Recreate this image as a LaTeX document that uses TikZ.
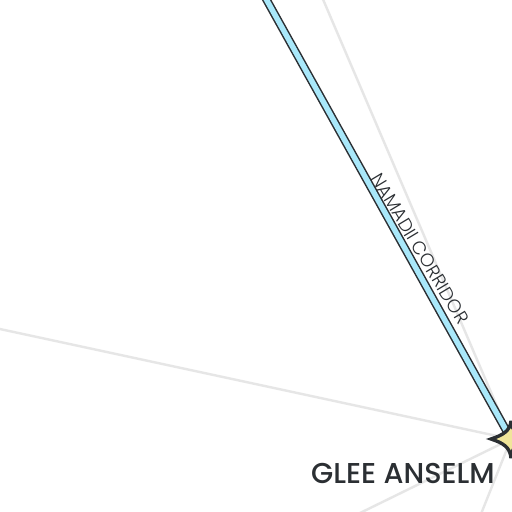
\documentclass[tikz,border=0pt]{standalone}
\usepackage{fontspec}
\setmainfont{Poppins}
\newfontfamily\lightfont{Poppins Light}
\newfontfamily\medfont{Poppins Medium}
\definecolor{ink}{HTML}{2B2F33}
\definecolor{faint}{HTML}{E6E6E6}
\definecolor{corridor}{HTML}{A9E8FA}
\definecolor{starfill}{HTML}{F0E59A}
\tikzset{
  faintline/.style={draw=faint,line width=2.4pt},
  casing/.style={draw=ink,line width=8.4pt},
  core/.style={draw=corridor,line width=5.4pt},
  titlelabel/.style={text=ink,inner sep=0pt,font=\medfont\fontsize{28.7}{30}\selectfont},
  pathlabel/.style={text=ink,inner sep=0pt,font=\lightfont\fontsize{18.4}{20}\selectfont,rotate=-59},
}
\begin{document}
\begin{tikzpicture}[x=1pt,y=-1pt]
\useasboundingbox (0,0) rectangle (512,512);
\clip (0,0) rectangle (512,512);
\fill[white] (0,0) rectangle (512,512);
\coordinate (hub) at (511,439);
\coordinate (west) at (-2,328.6);
\coordinate (north) at (322,-3);
\coordinate (sw) at (358,514);
\coordinate (south) at (481,514);
\coordinate (corrtop) at (265,-3);
\draw[faintline] (west) -- (hub);
\draw[faintline] (north) -- (hub);
\draw[faintline] (sw) -- (hub);
\draw[faintline] (south) -- (hub);
\draw[casing] (corrtop) -- (hub);
\draw[core] (corrtop) -- (hub);
\filldraw[draw=ink,fill=starfill,line width=3.4pt,line join=miter,miter limit=3]
  (511,421) .. controls (512,431) and (517,435) .. (531,439)
  .. controls (517,443) and (512,447) .. (511,458)
  .. controls (510,447) and (503,443) .. (491,439)
  .. controls (503,435) and (510,431) .. (511,421) -- cycle;
\node[titlelabel] (title) at (403,473) {GLEE ANSELM};
\node[pathlabel] (corrlabel) at (420,248.5) {NAMADII CORRIDOR};
\end{tikzpicture}
\end{document}
